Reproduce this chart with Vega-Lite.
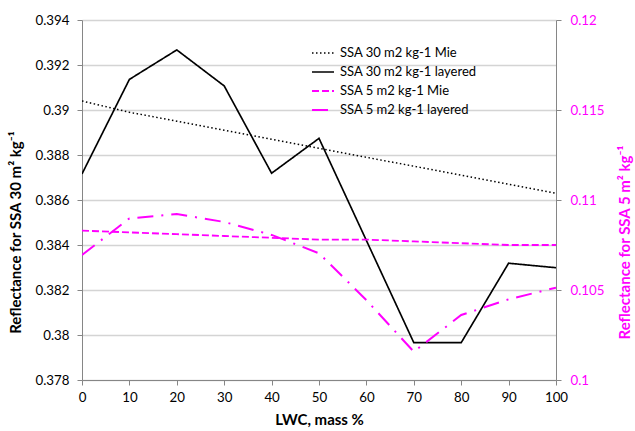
{
  "$schema": "https://vega.github.io/schema/vega-lite/v6.json",
  "width": 474,
  "height": 360,
  "autosize": {"type": "none"},
  "padding": {"left": 82, "top": 20, "right": 79, "bottom": 51},
  "background": "white",
  "config": {
    "font": "Lato",
    "view": {"stroke": null},
    "axis": {
      "domainColor": "#868686",
      "tickColor": "#868686",
      "gridColor": "#D4D4D4",
      "gridWidth": 1.3,
      "labelFont": "Lato",
      "labelFontSize": 13.3,
      "labelColor": "#000000",
      "titleFont": "Lato",
      "titleFontSize": 15,
      "titleFontWeight": "bold",
      "titleColor": "#000000",
      "tickSize": 5
    },
    "legend": {
      "labelFont": "Lato",
      "labelFontSize": 13,
      "labelColor": "#000000"
    }
  },
  "data": {
    "values": [
      {"lwc": 0, "series": "SSA 30 m2 kg-1 Mie", "value": 0.3904},
      {"lwc": 10, "series": "SSA 30 m2 kg-1 Mie", "value": 0.3899},
      {"lwc": 20, "series": "SSA 30 m2 kg-1 Mie", "value": 0.3895},
      {"lwc": 30, "series": "SSA 30 m2 kg-1 Mie", "value": 0.3891},
      {"lwc": 40, "series": "SSA 30 m2 kg-1 Mie", "value": 0.3887},
      {"lwc": 50, "series": "SSA 30 m2 kg-1 Mie", "value": 0.3883},
      {"lwc": 60, "series": "SSA 30 m2 kg-1 Mie", "value": 0.3879},
      {"lwc": 70, "series": "SSA 30 m2 kg-1 Mie", "value": 0.3875},
      {"lwc": 80, "series": "SSA 30 m2 kg-1 Mie", "value": 0.3871},
      {"lwc": 90, "series": "SSA 30 m2 kg-1 Mie", "value": 0.3867},
      {"lwc": 100, "series": "SSA 30 m2 kg-1 Mie", "value": 0.3863},
      {"lwc": 0, "series": "SSA 30 m2 kg-1 layered", "value": 0.38716},
      {"lwc": 10, "series": "SSA 30 m2 kg-1 layered", "value": 0.39136},
      {"lwc": 20, "series": "SSA 30 m2 kg-1 layered", "value": 0.39267},
      {"lwc": 30, "series": "SSA 30 m2 kg-1 layered", "value": 0.39107},
      {"lwc": 40, "series": "SSA 30 m2 kg-1 layered", "value": 0.38719},
      {"lwc": 50, "series": "SSA 30 m2 kg-1 layered", "value": 0.38874},
      {"lwc": 60, "series": "SSA 30 m2 kg-1 layered", "value": 0.3842},
      {"lwc": 70, "series": "SSA 30 m2 kg-1 layered", "value": 0.37966},
      {"lwc": 80, "series": "SSA 30 m2 kg-1 layered", "value": 0.37966},
      {"lwc": 90, "series": "SSA 30 m2 kg-1 layered", "value": 0.38319},
      {"lwc": 100, "series": "SSA 30 m2 kg-1 layered", "value": 0.38299},
      {"lwc": 0, "series": "SSA 5 m2 kg-1 Mie", "value": 0.1083},
      {"lwc": 10, "series": "SSA 5 m2 kg-1 Mie", "value": 0.1082},
      {"lwc": 20, "series": "SSA 5 m2 kg-1 Mie", "value": 0.1081},
      {"lwc": 30, "series": "SSA 5 m2 kg-1 Mie", "value": 0.108},
      {"lwc": 40, "series": "SSA 5 m2 kg-1 Mie", "value": 0.1079},
      {"lwc": 50, "series": "SSA 5 m2 kg-1 Mie", "value": 0.1078},
      {"lwc": 60, "series": "SSA 5 m2 kg-1 Mie", "value": 0.1078},
      {"lwc": 70, "series": "SSA 5 m2 kg-1 Mie", "value": 0.1077},
      {"lwc": 80, "series": "SSA 5 m2 kg-1 Mie", "value": 0.1076},
      {"lwc": 90, "series": "SSA 5 m2 kg-1 Mie", "value": 0.1075},
      {"lwc": 100, "series": "SSA 5 m2 kg-1 Mie", "value": 0.1075},
      {"lwc": 0, "series": "SSA 5 m2 kg-1 layered", "value": 0.10694},
      {"lwc": 10, "series": "SSA 5 m2 kg-1 layered", "value": 0.10898},
      {"lwc": 20, "series": "SSA 5 m2 kg-1 layered", "value": 0.10922},
      {"lwc": 30, "series": "SSA 5 m2 kg-1 layered", "value": 0.10878},
      {"lwc": 40, "series": "SSA 5 m2 kg-1 layered", "value": 0.10806},
      {"lwc": 50, "series": "SSA 5 m2 kg-1 layered", "value": 0.10704},
      {"lwc": 60, "series": "SSA 5 m2 kg-1 layered", "value": 0.10444},
      {"lwc": 70, "series": "SSA 5 m2 kg-1 layered", "value": 0.10157},
      {"lwc": 80, "series": "SSA 5 m2 kg-1 layered", "value": 0.10361},
      {"lwc": 90, "series": "SSA 5 m2 kg-1 layered", "value": 0.10448},
      {"lwc": 100, "series": "SSA 5 m2 kg-1 layered", "value": 0.10513}
    ]
  },
  "encoding": {
    "x": {
      "field": "lwc",
      "type": "quantitative",
      "scale": {"domain": [0, 100], "nice": false, "zero": false},
      "axis": {
        "title": "LWC, mass %",
        "values": [0, 10, 20, 30, 40, 50, 60, 70, 80, 90, 100],
        "grid": false,
        "labelPadding": 5,
        "titlePadding": 9,
        "labelFlush": false
      }
    }
  },
  "layer": [
    {
      "transform": [{"filter": "indexof(datum.series, 'SSA 30') == 0"}],
      "mark": {"type": "line", "clip": true},
      "encoding": {
        "y": {
          "field": "value",
          "type": "quantitative",
          "scale": {"domain": [0.378, 0.394], "nice": false, "zero": false},
          "axis": {
            "orient": "left",
            "title": "Reflectance for SSA 30 m² kg⁻¹",
            "values": [0.378, 0.38, 0.382, 0.384, 0.386, 0.388, 0.39, 0.392, 0.394],
            "format": ".3~f",
            "grid": true,
            "labelPadding": 8,
            "titleX": -59,
            "titleY": 212,
            "titleAngle": -90,
            "titleAlign": "center",
            "titleBaseline": "bottom",
            "labelFlush": false
          }
        },
        "color": {
          "field": "series",
          "type": "nominal",
          "scale": {
            "domain": ["SSA 30 m2 kg-1 Mie", "SSA 30 m2 kg-1 layered", "SSA 5 m2 kg-1 Mie", "SSA 5 m2 kg-1 layered"],
            "range": ["#000000", "#000000", "#FF00FF", "#FF00FF"]
          },
          "legend": {"title": null, "orient": "none", "legendX": 229, "legendY": 21, "symbolType": "stroke", "symbolSize": 484, "labelOffset": 5, "rowPadding": -1, "padding": 0}
        },
        "strokeDash": {
          "field": "series",
          "type": "nominal",
          "scale": {
            "domain": ["SSA 30 m2 kg-1 Mie", "SSA 30 m2 kg-1 layered", "SSA 5 m2 kg-1 Mie", "SSA 5 m2 kg-1 layered"],
            "range": [[1.5, 2.5], [1, 0], [7, 3], [16, 8, 2, 8]]
          },
          "legend": {"title": null, "orient": "none", "legendX": 229, "legendY": 21, "symbolType": "stroke", "symbolSize": 484, "labelOffset": 5, "rowPadding": -1, "padding": 0}
        },
        "strokeWidth": {
          "field": "series",
          "type": "nominal",
          "scale": {
            "domain": ["SSA 30 m2 kg-1 Mie", "SSA 30 m2 kg-1 layered", "SSA 5 m2 kg-1 Mie", "SSA 5 m2 kg-1 layered"],
            "range": [1.5, 2, 2, 1.8]
          },
          "legend": {"title": null, "orient": "none", "legendX": 229, "legendY": 21, "symbolType": "stroke", "symbolSize": 484, "labelOffset": 5, "rowPadding": -1, "padding": 0}
        }
      }
    },
    {
      "transform": [{"filter": "indexof(datum.series, 'SSA 5') == 0"}],
      "mark": {"type": "line", "clip": true},
      "encoding": {
        "y": {
          "field": "value",
          "type": "quantitative",
          "scale": {"domain": [0.1, 0.12], "nice": false, "zero": false},
          "axis": {
            "orient": "right",
            "title": "Reflectance for SSA 5 m² kg⁻¹",
            "values": [0.1, 0.105, 0.11, 0.115, 0.12],
            "format": ".3~f",
            "grid": false,
            "labelColor": "#FF00FF",
            "titleColor": "#FF00FF",
            "labelPadding": 9,
            "titleX": 61,
            "titleY": 222,
            "titleAngle": -90,
            "titleAlign": "center",
            "titleBaseline": "top",
            "labelFlush": false
          }
        },
        "color": {"field": "series", "type": "nominal"},
        "strokeDash": {"field": "series", "type": "nominal"},
        "strokeWidth": {"field": "series", "type": "nominal"}
      }
    }
  ],
  "resolve": {"scale": {"y": "independent"}}
}
